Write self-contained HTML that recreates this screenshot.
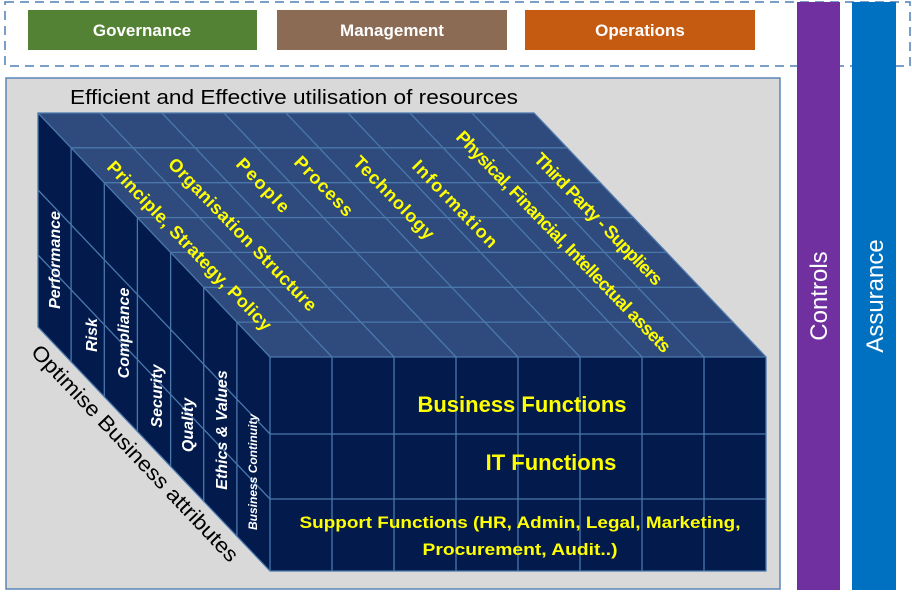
<!DOCTYPE html>
<html><head><meta charset="utf-8"><style>
html,body{margin:0;padding:0;background:#fff;}
svg{display:block;}
</style></head><body>
<svg width="912" height="593" viewBox="0 0 912 593" xmlns="http://www.w3.org/2000/svg" font-family="Liberation Sans, sans-serif">
<rect x="5" y="2" width="905" height="64" fill="none" stroke="#4f7fb5" stroke-width="1.5" stroke-dasharray="9,6"/>
<rect x="28" y="10" width="229" height="40" fill="#548235"/>
<rect x="277" y="10" width="230" height="40" fill="#8c6b55"/>
<rect x="525" y="10" width="230" height="40" fill="#c55a11"/>
<g fill="#fff" font-weight="bold" font-size="17" text-anchor="middle">
<text x="142" y="36">Governance</text>
<text x="392" y="36">Management</text>
<text x="640" y="36">Operations</text>
</g>
<rect x="6" y="78" width="774" height="511" fill="#d9d9d9" stroke="#5b86b8" stroke-width="1.5"/>
<rect x="797" y="2" width="43" height="588" fill="#7030a0"/>
<rect x="852" y="2" width="44" height="588" fill="#0070c0"/>
<g fill="#fff" font-size="24" text-anchor="middle">
<text transform="translate(827,296) rotate(-90)">Controls</text>
<text transform="translate(883,296) rotate(-90)">Assurance</text>
</g>
<text x="70" y="104" font-size="20" fill="#000" textLength="448" lengthAdjust="spacingAndGlyphs">Efficient and Effective utilisation of resources</text>
<text transform="translate(30,353) rotate(46.5)" font-size="21" fill="#000" textLength="290" lengthAdjust="spacingAndGlyphs">Optimise Business attributes</text>
<polygon points="38,113 534,113 766,357 270,357" fill="#2f4a7c"/>
<polygon points="38,113 270,357 270,571 38,327" fill="#021a4c"/>
<rect x="270" y="357" width="496" height="214" fill="#021a4c"/>
<g stroke="#4a78ad" stroke-width="1.3" fill="none">
<polygon points="38,113 534,113 766,357 766,571 270,571 38,327"/>
<line x1="270" y1="357" x2="766" y2="357"/>
<line x1="270" y1="357" x2="38" y2="113"/>
<line x1="270" y1="357" x2="270" y2="571"/>
<line x1="236.9" y1="322.1" x2="732.9" y2="322.1"/>
<line x1="203.7" y1="287.3" x2="699.7" y2="287.3"/>
<line x1="170.6" y1="252.4" x2="666.6" y2="252.4"/>
<line x1="137.4" y1="217.6" x2="633.4" y2="217.6"/>
<line x1="104.3" y1="182.7" x2="600.3" y2="182.7"/>
<line x1="71.1" y1="147.8" x2="567.1" y2="147.8"/>
<line x1="332" y1="357" x2="100" y2="113"/>
<line x1="394" y1="357" x2="162" y2="113"/>
<line x1="456" y1="357" x2="224" y2="113"/>
<line x1="518" y1="357" x2="286" y2="113"/>
<line x1="580" y1="357" x2="348" y2="113"/>
<line x1="642" y1="357" x2="410" y2="113"/>
<line x1="704" y1="357" x2="472" y2="113"/>
<line x1="236.9" y1="322.1" x2="236.9" y2="536.1"/>
<line x1="203.7" y1="287.3" x2="203.7" y2="501.3"/>
<line x1="170.6" y1="252.4" x2="170.6" y2="466.4"/>
<line x1="137.4" y1="217.6" x2="137.4" y2="431.6"/>
<line x1="104.3" y1="182.7" x2="104.3" y2="396.7"/>
<line x1="71.1" y1="147.8" x2="71.1" y2="361.8"/>
<line x1="270" y1="434" x2="38" y2="190"/>
<line x1="270" y1="499" x2="38" y2="255"/>
<line x1="270" y1="434" x2="766" y2="434"/>
<line x1="270" y1="499" x2="766" y2="499"/>
<line x1="332" y1="357" x2="332" y2="571"/>
<line x1="394" y1="357" x2="394" y2="571"/>
<line x1="456" y1="357" x2="456" y2="571"/>
<line x1="518" y1="357" x2="518" y2="571"/>
<line x1="580" y1="357" x2="580" y2="571"/>
<line x1="642" y1="357" x2="642" y2="571"/>
<line x1="704" y1="357" x2="704" y2="571"/>
</g>
<g fill="#ffff00" font-weight="bold" font-size="18" lengthAdjust="spacingAndGlyphs">
<text transform="translate(106,168) rotate(46)" textLength="228">Principle, Strategy, Policy</text>
<text transform="translate(167,165) rotate(46)" textLength="205">Organisation Structure</text>
<text transform="translate(235,165) rotate(46)" textLength="68">People</text>
<text transform="translate(293,163) rotate(46)" textLength="76">Process</text>
<text transform="translate(352,163) rotate(46)" textLength="108">Technology</text>
<text transform="translate(411,167) rotate(46)" textLength="114">Information</text>
<text transform="translate(455,138) rotate(46)" textLength="300">Physical, Financial, Intellectual  assets</text>
<text transform="translate(533,160) rotate(46)" textLength="176">Third Party - Suppliers</text>
</g>
<g fill="#fff" font-weight="bold" font-style="italic" font-size="16" text-anchor="middle">
<text transform="translate(60,260) rotate(-90)">Performance</text>
<text transform="translate(97,335) rotate(-90)">Risk</text>
<text transform="translate(129,333) rotate(-90)">Compliance</text>
<text transform="translate(162,396) rotate(-90)">Security</text>
<text transform="translate(193,425) rotate(-90)">Quality</text>
<text transform="translate(227,430) rotate(-90)">Ethics &amp; Values</text>
<text transform="translate(257,472) rotate(-90)" font-size="12">Business Continuity</text>
</g>
<g fill="#ffff00" font-weight="bold" text-anchor="middle">
<text x="522" y="412" font-size="22">Business Functions</text>
<text x="551" y="470" font-size="22">IT Functions</text>
<text x="520" y="528" font-size="17" textLength="441" lengthAdjust="spacingAndGlyphs">Support Functions (HR, Admin, Legal, Marketing,</text>
<text x="520" y="555" font-size="17" textLength="195" lengthAdjust="spacingAndGlyphs">Procurement, Audit..)</text>
</g>
</svg>
</body></html>
